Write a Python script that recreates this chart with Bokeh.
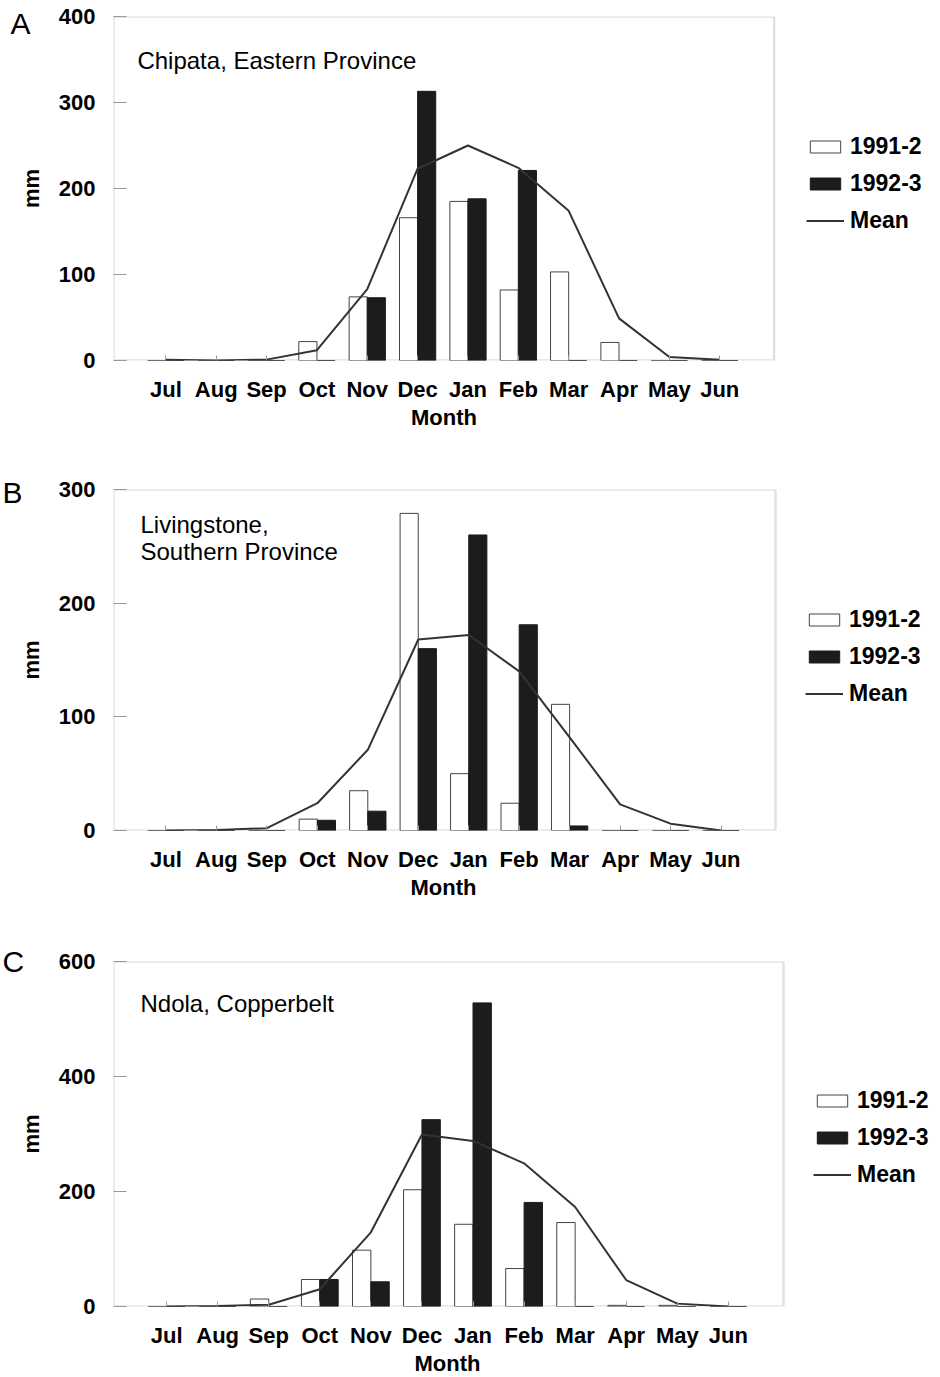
from bokeh.plotting import figure
from bokeh.models import (Range1d, FixedTicker, Label, Legend, LegendItem,
                          BoxAnnotation, Title)
from bokeh.layouts import column
from bokeh.embed import file_html
from bokeh.resources import INLINE

months = ["Jul", "Aug", "Sep", "Oct", "Nov", "Dec", "Jan", "Feb", "Mar", "Apr", "May", "Jun"]

# Panel A - Chipata, Eastern Province
chipata_1991 = [0, 0, 0, 22, 74, 166, 185, 82, 103, 21, 0, 0]
chipata_1992 = [0, 0, 0, 0, 73, 313, 188, 221, 0, 0, 0, 0]
chipata_mean = [1, 0, 1, 12, 83, 223, 250, 224, 174, 49, 4, 1]

# Panel B - Livingstone, Southern Province
living_1991 = [0, 0, 0, 10, 35, 279, 50, 24, 111, 0, 0, 0]
living_1992 = [0, 0, 0, 9, 17, 160, 260, 181, 4, 0, 0, 0]
living_mean = [0, 0.5, 2, 24, 71, 168, 172, 140, 82, 23, 6, 0]

# Panel C - Ndola, Copperbelt
ndola_1991 = [0, 0, 13, 47, 98, 203, 143, 66, 146, 2, 2, 0]
ndola_1992 = [0, 0, 0, 47, 43, 325, 528, 181, 0, 0, 0, 0]
ndola_mean = [0, 1, 3, 30, 129, 299, 288, 249, 173, 46, 5, 0]

yticks_a = [0, 100, 200, 300, 400]
yticks_b = [0, 100, 200, 300]
yticks_c = [0, 200, 400, 600]

FONT = "Liberation Sans"
X0, XB = -1.04, 12.08     # visible box extent (month index units)
W = 940


def panel(letter, title, white, black, mean, yticks, H, L, T, box_w, fh,
          letter_dx, letter_stand, title_dx, title_dy, leg_x, leg_r):
    ymax = yticks[-1]
    fw = W - L
    pxu = box_w / (XB - X0)
    pyu = fh / ymax
    x_end = X0 + fw / pxu
    B = H - T - fh
    p = figure(width=W, height=H,
               x_range=Range1d(X0, x_end), y_range=Range1d(0, ymax),
               output_backend="svg", toolbar_location=None,
               min_border_left=L, min_border_top=T, min_border_bottom=B,
               min_border_right=0, background_fill_color="white",
               border_fill_color="white", title=letter)
    p.grid.visible = False
    p.outline_line_color = None

    p.title.text_font = FONT
    p.title.text_font_size = "30px"
    p.title.text_font_style = "normal"
    p.title.text_color = "black"
    p.title.align = "left"
    p.title.offset = letter_dx
    p.title.standoff = letter_stand

    def dx(px):
        return X0 + px / pxu

    def dy(px_below_top):
        return ymax - px_below_top / pyu

    idx = list(range(len(months)))
    w = p.vbar(x=[i - 0.18 for i in idx], top=white, bottom=0, width=0.36,
               fill_color="white", line_color="#444444", line_width=1)
    b = p.vbar(x=[i + 0.18 for i in idx], top=black, bottom=0, width=0.36,
               fill_color="#1c1c1c", line_color="#1c1c1c", line_width=1)
    m = p.line(x=idx, y=mean, line_color="#333333", line_width=2)

    p.add_layout(BoxAnnotation(left=X0, right=XB, bottom=0, top=ymax,
                               fill_alpha=0, line_color="#9a9a9a",
                               line_width=2.4, level="underlay"))

    xa = p.xaxis[0]
    xa.ticker = FixedTicker(ticks=idx)
    xa.major_label_overrides = {i: months[i] for i in idx}
    xa.major_tick_in = 5
    xa.major_tick_out = 0
    xa.minor_tick_line_color = None
    xa.axis_line_color = None
    xa.major_tick_line_color = "#999999"
    xa.major_label_standoff = 16

    ya = p.yaxis[0]
    ya.ticker = FixedTicker(ticks=yticks)
    ya.axis_label = "mm"
    ya.major_tick_in = 13
    ya.major_tick_out = 0
    ya.minor_tick_line_color = None
    ya.axis_line_color = None
    ya.major_tick_line_color = "#999999"
    ya.major_label_standoff = 18
    ya.axis_label_standoff = 12

    for ax in (xa, ya):
        ax.major_label_text_font = FONT
        ax.major_label_text_font_size = "22px"
        ax.major_label_text_font_style = "bold"
        ax.major_label_text_color = "black"
        ax.axis_label_text_font = FONT
        ax.axis_label_text_font_size = "22px"
        ax.axis_label_text_font_style = "bold"
        ax.axis_label_text_color = "black"

    # x-axis title, centred on the drawn box (not on the wider frame)
    month_title = Title(text="Month", align="left", offset=box_w / 2 - 34,
                        standoff=-4, text_font=FONT, text_font_size="22px",
                        text_font_style="bold", text_color="black")
    p.add_layout(month_title, "below")

    p.add_layout(Label(x=dx(title_dx), y=dy(title_dy), text=title,
                       text_font=FONT, text_font_size="24px",
                       text_baseline="top", text_align="left",
                       text_color="black", text_line_height=1.02))

    leg = Legend(items=[LegendItem(label="1991-2", renderers=[w]),
                        LegendItem(label="1992-3", renderers=[b]),
                        LegendItem(label="Mean", renderers=[m])],
                 location=(leg_x, fh - leg_r - 84),
                 glyph_width=38, glyph_height=15, label_standoff=6,
                 label_height=24, spacing=10, padding=0, margin=0,
                 border_line_color=None, background_fill_alpha=0,
                 label_text_font=FONT, label_text_font_size="23px",
                 label_text_font_style="bold", label_text_color="black")
    p.add_layout(leg, "center")
    return p


pa = panel("A", "Chipata, Eastern Province", chipata_1991, chipata_1992, chipata_mean,
           yticks_a, 474, 110, 16, 663, 344, -103, -47, 24, 30, 693, 134)
pb = panel("B", "Livingstone,\nSouthern Province", living_1991, living_1992, living_mean,
           yticks_b, 472, 113, 15, 662, 341, -111, -39, 27, 21, 692, 134)
pc = panel("C", "Ndola, Copperbelt", ndola_1991, ndola_1992, ndola_mean,
           yticks_c, 431, 113, 15, 670, 345, -111, -33, 27, 28, 700, 143)

layout = column(pa, pb, pc, spacing=0)
open("out.html", "w").write(file_html(layout, INLINE))
